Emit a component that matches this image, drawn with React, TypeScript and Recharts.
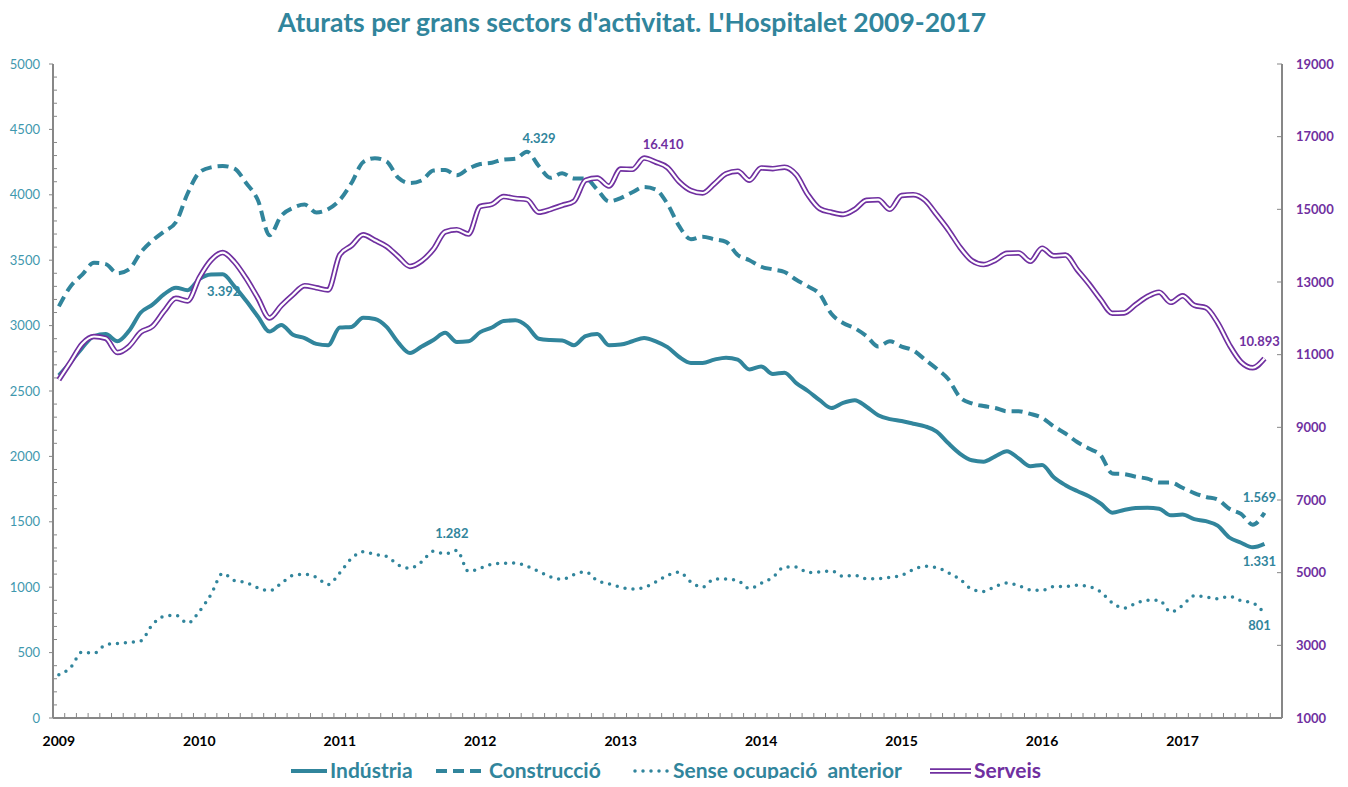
import React from 'react';
import { LineChart, Line, XAxis, YAxis } from 'recharts';

// ---------- data ----------
const YEAR_LABELS = ['2009', '2010', '2011', '2012', '2013', '2014', '2015', '2016', '2017'];
const CATEGORY_SLOTS = 105; // monthly slots on the category axis (Jan 2009 .. Sep 2017)

const INDUSTRIA = [
  2620, 2720, 2830, 2920, 2935, 2880, 2960, 3100, 3160, 3240, 3290, 3270,
  3355, 3390, 3392, 3300, 3190, 3070, 2955, 3005, 2930, 2905, 2860, 2850,
  2985, 2990, 3060, 3050, 2990, 2870, 2790, 2840, 2890, 2945, 2875, 2880,
  2950, 2985, 3035, 3040, 2995, 2900, 2890, 2887, 2850, 2920, 2935, 2850,
  2855, 2880, 2905, 2880, 2835, 2760, 2715, 2715, 2740, 2755, 2740, 2665,
  2688, 2630, 2640, 2560, 2500, 2430, 2370, 2410, 2430, 2380, 2315, 2285,
  2270, 2250, 2230, 2190, 2100, 2020, 1970, 1960, 2000, 2040, 1985, 1925,
  1935, 1840, 1780, 1735, 1695, 1640, 1570, 1590, 1605, 1608, 1600, 1550,
  1555, 1520, 1505, 1470, 1380, 1340, 1305, 1331,
];

const CONSTRUCCIO = [
  3147, 3300, 3390, 3480, 3470, 3400, 3430, 3560, 3650, 3720, 3790, 4010,
  4170, 4210, 4220, 4200, 4090, 3960, 3690, 3840, 3900, 3925, 3865, 3890,
  3960, 4090, 4250, 4280, 4255, 4130, 4090, 4110, 4185, 4190, 4150, 4200,
  4235, 4245, 4270, 4275, 4329, 4220, 4130, 4165, 4125, 4125, 4040, 3950,
  3975, 4020, 4060, 4040, 3930, 3760, 3660, 3680, 3660, 3640, 3540, 3500,
  3450, 3430, 3410, 3350, 3300, 3240, 3090, 3020, 2980, 2920, 2840, 2880,
  2840, 2810, 2740, 2670, 2590, 2450, 2405, 2385, 2370, 2345, 2345, 2325,
  2295, 2230, 2175, 2110, 2060, 2010, 1870, 1865, 1845, 1830, 1800, 1800,
  1760, 1720, 1690, 1670, 1600, 1560, 1478, 1569,
];

const SENSE_OCUPACIO = [
  330, 385, 505, 495, 560, 570, 578, 590, 715, 778, 785, 725,
  815, 945, 1105, 1050, 1035, 995, 972, 1030, 1090, 1098, 1075, 1020,
  1110, 1220, 1272, 1250, 1235, 1170, 1145, 1195, 1275, 1255, 1282, 1120,
  1145, 1175, 1183, 1185, 1160, 1120, 1080, 1060, 1095, 1118, 1050, 1025,
  1000, 986, 998, 1040, 1090, 1115, 1040, 1000, 1062, 1062, 1050, 990,
  1030, 1075, 1155, 1155, 1113, 1116, 1125, 1083, 1090, 1064, 1066, 1075,
  1090, 1135, 1160, 1150, 1110, 1060, 985, 968, 1006, 1032, 1011, 980,
  976, 1004, 1006, 1015, 1004, 965, 880, 840, 876, 900, 900, 810,
  860, 935, 925, 912, 930, 897, 880, 801,
];

const SERVEIS = [
  10310, 10800, 11300, 11500, 11450, 11060, 11230, 11620, 11780, 12200, 12550, 12480,
  13120, 13600, 13810, 13550, 13100, 12560, 12010, 12350, 12650, 12900, 12840, 12780,
  13750, 14000, 14300, 14150, 13980, 13700, 13430, 13580, 13900, 14380, 14440, 14320,
  15080, 15140, 15350, 15300, 15267, 14920, 15000, 15110, 15220, 15800, 15860, 15640,
  16110, 16100, 16410, 16300, 16150, 15760, 15520, 15450, 15700, 15980, 16050, 15800,
  16140, 16120, 16160, 15950, 15400, 15020, 14920, 14860, 15000, 15250, 15267, 15000,
  15380, 15404, 15250, 14850, 14430, 13950, 13590, 13480, 13600, 13790, 13800, 13570,
  13930, 13720, 13740, 13340, 12950, 12520, 12140, 12150, 12380, 12600, 12720, 12440,
  12620, 12360, 12290, 11880, 11270, 10800, 10640, 10893,
];

const LEFT_TICKS = Array.from({ length: 51 }, (_, k) => k * 100);
const RIGHT_TICKS = [1000, 3000, 5000, 7000, 9000, 11000, 13000, 15000, 17000, 19000];
const X_TICKS = [
  ...Array.from({ length: CATEGORY_SLOTS + 1 }, (_, k) => k - 0.5),
  ...YEAR_LABELS.map((_, k) => k * 12),
].sort((a, b) => a - b);

const TITLE = "Aturats per grans sectors d'activitat. L'Hospitalet 2009-2017";
const LEGEND_ITEMS = [
  { kind: 'solid', text: 'Indústria', iconX: 283, iconW: 36, textX: 322 },
  { kind: 'dash', text: 'Construcció', iconX: 428, iconW: 49, textX: 481 },
  { kind: 'dot', text: 'Sense ocupació  anterior', iconX: 625, iconW: 37, textX: 665 },
  { kind: 'double', text: 'Serveis', iconX: 922, iconW: 41, textX: 966 },
];

const data = INDUSTRIA.map((v, i) => ({
  i,
  industria: v,
  construccio: CONSTRUCCIO[i],
  sense: SENSE_OCUPACIO[i],
  serveis: SERVEIS[i],
}));

// ---------- styles ----------
const TEAL = '#31859C';
const PURPLE = '#7030A0';
const AXIS_GRAY = '#878787';
const LEFT_LABEL = '#3F98AE';
const FONT = 'Lato, "Open Sans", sans-serif';

const fmt = (v: number) => String(v).replace(/\B(?=(\d{3})+(?!\d))/g, '.');

const XTick = (props: any) => {
  const { x, y, payload } = props;
  const v = payload.value;
  if (Number.isInteger(v)) {
    return (
      <text x={x} y={y + 28} textAnchor="middle" fontFamily={FONT} fontSize={14} fontWeight={700} fill="#000">
        {YEAR_LABELS[v / 12]}
      </text>
    );
  }
  return <line x1={x} x2={x} y1={y} y2={y - 5} stroke={AXIS_GRAY} strokeWidth={1} />;
};

const LeftTick = (props: any) => {
  const { x, y, payload } = props;
  const v = payload.value;
  if (v % 500 === 0) {
    return (
      <g>
        <line x1={x - 4} x2={x} y1={y} y2={y} stroke={AXIS_GRAY} strokeWidth={1} />
        <text x={x - 13} y={y + 4.5} textAnchor="end" fontFamily={FONT} fontSize={13} fill={LEFT_LABEL}>
          {v}
        </text>
      </g>
    );
  }
  return <line x1={x} x2={x + 4} y1={y} y2={y} stroke={AXIS_GRAY} strokeWidth={1} />;
};

const RightTick = (props: any) => {
  const { x, y, payload } = props;
  return (
    <g>
      <line x1={x - 5} x2={x} y1={y} y2={y} stroke={AXIS_GRAY} strokeWidth={1} />
      <text x={x + 14} y={y + 4.5} textAnchor="start" fontFamily={FONT} fontSize={13} fontWeight={700} fill={PURPLE}>
        {payload.value}
      </text>
    </g>
  );
};

type LabelSpec = Record<number, { dx: number; dy: number }>;
const makeLabel = (spec: LabelSpec, color: string) => (props: any) => {
  const { x, y, index, value } = props;
  const s = spec[index];
  if (!s || value == null) return null;
  return (
    <text
      key={`lbl-${index}`}
      x={x + s.dx}
      y={y + s.dy}
      textAnchor="middle"
      fontFamily={FONT}
      fontSize={13}
      fontWeight={700}
      fill={color}
    >
      {fmt(value)}
    </text>
  );
};

const industriaLabels = makeLabel({ 14: { dx: 1, dy: 21.5 }, 103: { dx: -5, dy: 22.5 } }, TEAL);
const construccioLabels = makeLabel({ 40: { dx: 12, dy: -8.5 }, 103: { dx: -5, dy: -10.5 } }, TEAL);
const senseLabels = makeLabel({ 34: { dx: -5, dy: -12 }, 103: { dx: -5, dy: 17 } }, TEAL);
const serveisLabels = makeLabel({ 50: { dx: 19, dy: -9 }, 103: { dx: -5, dy: -12.5 } }, PURPLE);

const LegendIcon = ({ kind, x, w, y }: { kind: string; x: number; w: number; y: number }) => {
  if (kind === 'solid') return <line x1={x} x2={x + w} y1={y} y2={y} stroke={TEAL} strokeWidth={4} />;
  if (kind === 'dash')
    return <line x1={x} x2={x + w} y1={y} y2={y} stroke={TEAL} strokeWidth={4} strokeDasharray="11 6" />;
  if (kind === 'dot')
    return (
      <line x1={x + 2} x2={x + w} y1={y} y2={y} stroke={TEAL} strokeWidth={3.5} strokeDasharray="0 8" strokeLinecap="round" />
    );
  return (
    <g>
      <line x1={x} x2={x + w} y1={y} y2={y} stroke={PURPLE} strokeWidth={5.5} />
      <line x1={x} x2={x + w} y1={y} y2={y} stroke="#fff" strokeWidth={2.2} />
    </g>
  );
};

export default function App() {
  return (
    <div style={{ position: 'relative', width: 1332, height: 771, background: '#fff' }}>
      <svg
        width={1332}
        height={50}
        style={{ position: 'absolute', left: 0, top: 0, overflow: 'visible' }}
      >
        <text x={624} y={24} textAnchor="middle" fontFamily={FONT} fontSize={26.5} fontWeight={700} fill={TEAL}>
          {TITLE}
        </text>
      </svg>
      <div style={{ position: 'absolute', top: 0, left: 0 }}>
        <LineChart width={1332} height={771} data={data} margin={{ top: 56, right: 0, bottom: 31, left: 0 }}>
          <XAxis
            dataKey="i"
            type="number"
            domain={[-0.5, CATEGORY_SLOTS - 0.5]}
            ticks={X_TICKS}
            interval={0}
            height={30}
            tickSize={0}
            tickMargin={0}
            tickLine={false}
            axisLine={{ stroke: AXIS_GRAY, strokeWidth: 2 }}
            tick={XTick}
          />
          <YAxis
            yAxisId="left"
            orientation="left"
            width={45}
            domain={[0, 5000]}
            ticks={LEFT_TICKS}
            interval={0}
            tickSize={0}
            tickMargin={0}
            tickLine={false}
            axisLine={{ stroke: AXIS_GRAY, strokeWidth: 2 }}
            tick={LeftTick}
          />
          <YAxis
            yAxisId="right"
            orientation="right"
            width={58}
            domain={[1000, 19000]}
            ticks={RIGHT_TICKS}
            interval={0}
            tickSize={0}
            tickMargin={0}
            tickLine={false}
            axisLine={{ stroke: AXIS_GRAY, strokeWidth: 2 }}
            tick={RightTick}
          />
          <Line
            yAxisId="left"
            dataKey="industria"
            type="monotone"
            stroke={TEAL}
            strokeWidth={4}
            dot={false}
            activeDot={false}
            isAnimationActive={false}
            label={industriaLabels}
          />
          <Line
            yAxisId="left"
            dataKey="construccio"
            type="monotone"
            stroke={TEAL}
            strokeWidth={4}
            strokeDasharray="11 6"
            dot={false}
            activeDot={false}
            isAnimationActive={false}
            label={construccioLabels}
          />
          <Line
            yAxisId="left"
            dataKey="sense"
            type="monotone"
            stroke={TEAL}
            strokeWidth={3.5}
            strokeDasharray="0 8"
            strokeLinecap="round"
            dot={false}
            activeDot={false}
            isAnimationActive={false}
            label={senseLabels}
          />
          <Line
            yAxisId="right"
            dataKey="serveis"
            type="monotone"
            stroke={PURPLE}
            strokeWidth={5.5}
            dot={false}
            activeDot={false}
            isAnimationActive={false}
            label={serveisLabels}
          />
          <Line
            yAxisId="right"
            dataKey="serveis"
            type="monotone"
            stroke="#ffffff"
            strokeWidth={2.2}
            dot={false}
            activeDot={false}
            isAnimationActive={false}
            legendType="none"
          />
        </LineChart>
      </div>
      <svg
        width={1332}
        height={30}
        style={{ position: 'absolute', left: 0, top: 740, overflow: 'visible' }}
      >
        {LEGEND_ITEMS.map((it) => (
          <g key={it.text}>
            <LegendIcon kind={it.kind} x={it.iconX} w={it.iconW} y={23} />
            <text
              x={it.textX}
              y={30}
              fontFamily={FONT}
              fontSize={21}
              fontWeight={700}
              fill={it.kind === 'double' ? PURPLE : TEAL}
              style={{ whiteSpace: 'pre' }}
            >
              {it.text}
            </text>
          </g>
        ))}
      </svg>
    </div>
  );
}
